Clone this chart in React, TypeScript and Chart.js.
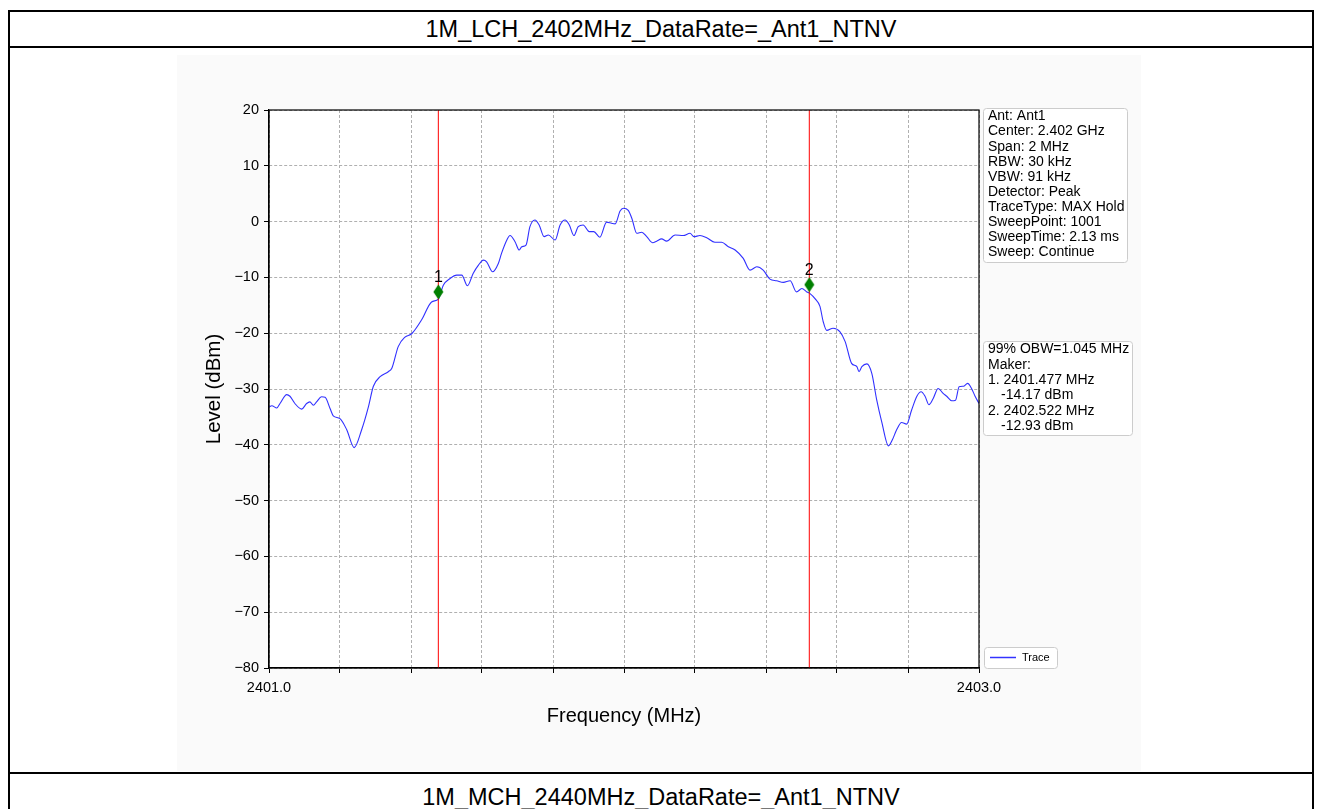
import React, { useEffect, useRef } from "react";
import { Chart, registerables } from "chart.js";

Chart.register(...registerables);

const FONT = '"Liberation Sans", Arial, Helvetica, sans-serif';

const TITLE_TOP = "1M_LCH_2402MHz_DataRate=_Ant1_NTNV";
const TITLE_NEXT = "1M_MCH_2440MHz_DataRate=_Ant1_NTNV";

const X_MIN = 2401.0;
const X_MAX = 2403.0;
const X_STEP = 0.2;
const X_LABELED = [2401.0, 2403.0];
const Y_MIN = -80;
const Y_MAX = 20;
const Y_STEP = 10;

const TRACE_FREQ = [
  2401.000, 2401.008, 2401.022, 2401.031, 2401.050, 2401.059, 2401.073, 2401.092, 2401.106, 2401.115,
  2401.125, 2401.134, 2401.148, 2401.158, 2401.172, 2401.181, 2401.200, 2401.219, 2401.240, 2401.261,
  2401.280, 2401.294, 2401.313, 2401.336, 2401.346, 2401.364, 2401.383, 2401.402, 2401.430, 2401.458,
  2401.477, 2401.491, 2401.510, 2401.529, 2401.543, 2401.559, 2401.575, 2401.590, 2401.604, 2401.613,
  2401.630, 2401.646, 2401.655, 2401.670, 2401.679, 2401.693, 2401.705, 2401.712, 2401.724, 2401.735,
  2401.749, 2401.761, 2401.775, 2401.787, 2401.806, 2401.820, 2401.834, 2401.846, 2401.859, 2401.871,
  2401.885, 2401.902, 2401.915, 2401.932, 2401.951, 2401.965, 2401.975, 2401.989, 2401.998, 2402.012,
  2402.022, 2402.036, 2402.050, 2402.064, 2402.081, 2402.092, 2402.106, 2402.120, 2402.144, 2402.167,
  2402.186, 2402.197, 2402.214, 2402.233, 2402.256, 2402.275, 2402.294, 2402.313, 2402.336, 2402.355,
  2402.374, 2402.392, 2402.411, 2402.430, 2402.449, 2402.468, 2402.486, 2402.501, 2402.515, 2402.524,
  2402.538, 2402.552, 2402.561, 2402.571, 2402.589, 2402.608, 2402.623, 2402.641, 2402.656, 2402.662,
  2402.670, 2402.684, 2402.698, 2402.712, 2402.726, 2402.745, 2402.756, 2402.768, 2402.782, 2402.796,
  2402.810, 2402.825, 2402.837, 2402.848, 2402.859, 2402.871, 2402.885, 2402.899, 2402.909, 2402.923,
  2402.934, 2402.944, 2402.956, 2402.968, 2402.979, 2402.989, 2403.000,
];

const TRACE_LEVEL = [
  -33.2, -33.0, -33.4, -32.6, -31.0, -31.3, -32.6, -33.6, -32.6, -32.3,
  -32.9, -32.3, -31.4, -31.5, -33.5, -34.8, -35.3, -37.3, -40.5, -37.3,
  -33.2, -29.5, -27.8, -26.9, -26.3, -22.4, -20.7, -20.1, -17.6, -14.4,
  -13.9, -11.4, -10.2, -9.6, -9.6, -11.5, -9.3, -7.8, -6.9, -7.2,
  -9.0, -7.5, -5.7, -3.3, -2.5, -3.6, -5.1, -4.5, -4.2, -0.9,
  0.3, -0.6, -2.7, -2.4, -3.3, -0.6, 0.3, -0.6, -2.5, -0.9,
  -0.6, -1.8, -1.8, -2.8, -0.1, -0.3, -0.4, 1.9, 2.4, 2.0,
  0.6, -2.1, -1.9, -2.7, -3.8, -3.5, -3.1, -3.5, -2.4, -2.5,
  -2.1, -2.7, -2.5, -2.9, -3.7, -3.7, -4.5, -5.1, -6.6, -8.7,
  -8.1, -8.7, -10.3, -10.6, -10.9, -10.6, -12.6, -12.0, -12.6, -12.9,
  -13.8, -15.2, -17.9, -19.5, -19.1, -19.7, -21.5, -25.4, -26.0, -26.9,
  -26.0, -25.5, -27.2, -32.0, -35.9, -40.2, -39.1, -37.3, -36.0, -36.3,
  -33.8, -31.3, -30.5, -31.3, -32.8, -31.7, -29.9, -30.8, -31.3, -32.1,
  -32.0, -29.6, -29.5, -29.0, -29.9, -31.3, -32.6,
];

const MARKER_FREQ = [2401.477, 2402.522];
const MARKER_LEVEL = [-12.6, -11.3];
const MARKER_LABELS = ["1", "2"];

const INFO_LINES = [
  "Ant: Ant1",
  "Center: 2.402 GHz",
  "Span: 2 MHz",
  "RBW: 30 kHz",
  "VBW: 91 kHz",
  "Detector: Peak",
  "TraceType: MAX Hold",
  "SweepPoint: 1001",
  "SweepTime: 2.13 ms",
  "Sweep: Continue",
];

const OBW_LINES = [
  "99% OBW=1.045 MHz",
  "Maker:",
  "1. 2401.477 MHz",
  "   -14.17 dBm",
  "2. 2402.522 MHz",
  "   -12.93 dBm",
];

const LEGEND_LABEL = "Trace";

function makeDiamond(): HTMLCanvasElement {
  const c = document.createElement("canvas");
  c.width = 11;
  c.height = 16;
  const g = c.getContext("2d")!;
  g.beginPath();
  g.moveTo(5.5, 0.5);
  g.lineTo(10.5, 8);
  g.lineTo(5.5, 15.5);
  g.lineTo(0.5, 8);
  g.closePath();
  g.fillStyle = "#008000";
  g.fill();
  return c;
}

function roundRect(ctx: CanvasRenderingContext2D, x: number, y: number, w: number, h: number, r: number) {
  ctx.beginPath();
  ctx.moveTo(x + r, y);
  ctx.lineTo(x + w - r, y);
  ctx.arcTo(x + w, y, x + w, y + r, r);
  ctx.lineTo(x + w, y + h - r);
  ctx.arcTo(x + w, y + h, x + w - r, y + h, r);
  ctx.lineTo(x + r, y + h);
  ctx.arcTo(x, y + h, x, y + h - r, r);
  ctx.lineTo(x, y + r);
  ctx.arcTo(x, y, x + r, y, r);
  ctx.closePath();
}

const decorPlugin = {
  id: "decor",
  beforeDraw(chart: any) {
    const ctx: CanvasRenderingContext2D = chart.ctx;
    const a = chart.chartArea;
    ctx.save();
    ctx.fillStyle = "#ffffff";
    ctx.fillRect(a.left, a.top, a.right - a.left, a.bottom - a.top);
    ctx.restore();
  },
  afterDraw(chart: any) {
    const ctx: CanvasRenderingContext2D = chart.ctx;
    const a = chart.chartArea;
    const xs = chart.scales.x;
    const ys = chart.scales.y;
    ctx.save();
    // frame
    ctx.strokeStyle = "#000";
    ctx.lineWidth = 1.2;
    ctx.setLineDash([]);
    ctx.strokeRect(a.left, a.top, a.right - a.left, a.bottom - a.top);

    // marker labels
    ctx.fillStyle = "#000";
    ctx.font = `16px ${FONT}`;
    ctx.textAlign = "center";
    ctx.textBaseline = "middle";
    MARKER_FREQ.forEach((f, i) => {
      const px = xs.getPixelForValue(f);
      const py = ys.getPixelForValue(MARKER_LEVEL[i]);
      ctx.fillText(MARKER_LABELS[i], px, py - 14);
    });

    // info box
    const bx = a.right + 4;
    ctx.textAlign = "left";
    ctx.font = `14px ${FONT}`;
    ctx.lineWidth = 1;
    ctx.strokeStyle = "#cccccc";
    ctx.fillStyle = "#fff";
    roundRect(ctx, bx + 0.5, a.top - 1.5, 144, 154, 3);
    ctx.fill();
    ctx.stroke();
    ctx.fillStyle = "#000";
    INFO_LINES.forEach((t, i) => {
      ctx.fillText(t, bx + 5, a.top + 6.5 + i * 15.1);
    });

    // OBW box
    const oy = a.top + 231;
    ctx.fillStyle = "#fff";
    roundRect(ctx, bx + 0.5, oy + 0.5, 149, 94, 3);
    ctx.fill();
    ctx.stroke();
    ctx.fillStyle = "#000";
    OBW_LINES.forEach((t, i) => {
      const indent = t.startsWith("   ");
      ctx.fillText(t.trim(), bx + (indent ? 18 : 5), oy + 8.5 + i * 15.3);
    });

    // legend
    const ly = a.bottom - 21;
    ctx.fillStyle = "#fff";
    roundRect(ctx, bx + 1.5, ly + 0.5, 73, 21, 3);
    ctx.fill();
    ctx.stroke();
    ctx.strokeStyle = "#3333ff";
    ctx.lineWidth = 1.5;
    ctx.beginPath();
    ctx.moveTo(bx + 7, ly + 10.5);
    ctx.lineTo(bx + 33, ly + 10.5);
    ctx.stroke();
    ctx.fillStyle = "#000";
    ctx.font = `11px ${FONT}`;
    ctx.fillText(LEGEND_LABEL, bx + 39, ly + 11);
    ctx.restore();
  },
};

export default function App() {
  const ref = useRef<HTMLCanvasElement | null>(null);

  useEffect(() => {
    if (!ref.current) return;
    const diamond = makeDiamond();
    const trace = TRACE_FREQ.map((f, i) => ({ x: f, y: TRACE_LEVEL[i] }));
    const markers = MARKER_FREQ.map((f, i) => ({ x: f, y: MARKER_LEVEL[i] }));
    const redLines = MARKER_FREQ.map((f) => ({
      type: "line" as const,
      label: "marker line",
      data: [
        { x: f, y: Y_MIN },
        { x: f, y: Y_MAX },
      ],
      borderColor: "#ff0000",
      borderWidth: 1,
      pointRadius: 0,
      fill: false,
    }));

    const chart = new Chart(ref.current, {
      type: "line",
      data: {
        datasets: [
          {
            label: "markers",
            data: markers,
            showLine: false,
            pointStyle: diamond as any,
            pointRadius: 6,
            borderColor: "#008000",
            backgroundColor: "#008000",
          },
          ...redLines,
          {
            label: LEGEND_LABEL,
            data: trace,
            borderColor: "#3030ff",
            borderWidth: 1.1,
            pointRadius: 0,
            fill: false,
            cubicInterpolationMode: "monotone",
          },
        ] as any,
      },
      options: {
        animation: false,
        responsive: false,
        maintainAspectRatio: false,
        layout: { padding: { left: 202, right: 343, top: 110, bottom: 81 } },
        plugins: {
          legend: { display: false },
          tooltip: { enabled: false },
          title: { display: false },
        },
        scales: {
          x: {
            type: "linear",
            min: X_MIN,
            max: X_MAX,
            ticks: {
              stepSize: X_STEP,
              autoSkip: false,
              maxRotation: 0,
              padding: 6,
              color: "#000",
              font: { family: FONT, size: 14.5 },
              callback: (v: any) => {
                const n = Number(v);
                const hit = X_LABELED.find((l) => Math.abs(l - n) < 1e-6);
                return hit !== undefined ? hit.toFixed(1) : "";
              },
            },
            grid: {
              color: "#b0b0b0",
              lineWidth: 1,
              tickColor: "#000",
              tickLength: 5,
              tickBorderDash: [],
            } as any,
            border: { display: true, color: "#000", width: 1.2, dash: [3, 2] },
            title: {
              display: true,
              text: "Frequency (MHz)",
              color: "#000",
              font: { family: FONT, size: 20 },
              padding: 0,
            },
            afterFit: (s: any) => {
              s.height = 60;
            },
          },
          y: {
            type: "linear",
            min: Y_MIN,
            max: Y_MAX,
            ticks: {
              stepSize: Y_STEP,
              padding: 5,
              color: "#000",
              font: { family: FONT, size: 14.5 },
              callback: (v: any) => {
                const n = Number(v);
                return n < 0 ? "\u2212" + Math.abs(n) : String(n);
              },
            },
            grid: {
              color: "#b0b0b0",
              lineWidth: 1,
              tickColor: "#000",
              tickLength: 5,
              tickBorderDash: [],
            } as any,
            border: { display: true, color: "#000", width: 1.2, dash: [3, 2] },
            title: {
              display: true,
              text: "Level (dBm)",
              color: "#000",
              font: { family: FONT, size: 20.5 },
              padding: 0,
            },
            afterFit: (s: any) => {
              s.width = 67;
            },
          },
        },
      } as any,
      plugins: [decorPlugin],
    });
    return () => chart.destroy();
  }, []);

  const titleStyle: React.CSSProperties = {
    position: "absolute",
    left: 8,
    width: 1306,
    textAlign: "center",
    fontFamily: FONT,
    fontSize: 23.5,
    color: "#000",
  };

  return (
    <div style={{ position: "absolute", left: 0, top: 0, width: 1322, height: 809, overflow: "hidden", background: "#fff" }}>
      <div style={{ position: "absolute", left: 177, top: 55, width: 964, height: 716, background: "#fafafa" }} />
      <div
        style={{
          position: "absolute",
          left: 8,
          top: 10,
          width: 1306,
          height: 900,
          boxSizing: "border-box",
          borderTop: "2px solid #000",
          borderLeft: "2px solid #000",
          borderRight: "2px solid #000",
        }}
      />
      <div style={{ position: "absolute", left: 8, top: 46, width: 1306, height: 2, background: "#000" }} />
      <div style={{ position: "absolute", left: 8, top: 772, width: 1306, height: 2, background: "#000" }} />
      <div style={{ ...titleStyle, top: 12, height: 34, lineHeight: "34px" }}>{TITLE_TOP}</div>
      <div style={{ ...titleStyle, top: 780, height: 34, lineHeight: "34px" }}>{TITLE_NEXT}</div>
      <canvas ref={ref} width={1322} height={809} style={{ position: "absolute", left: 0, top: 0, width: 1322, height: 809 }} />
    </div>
  );
}
